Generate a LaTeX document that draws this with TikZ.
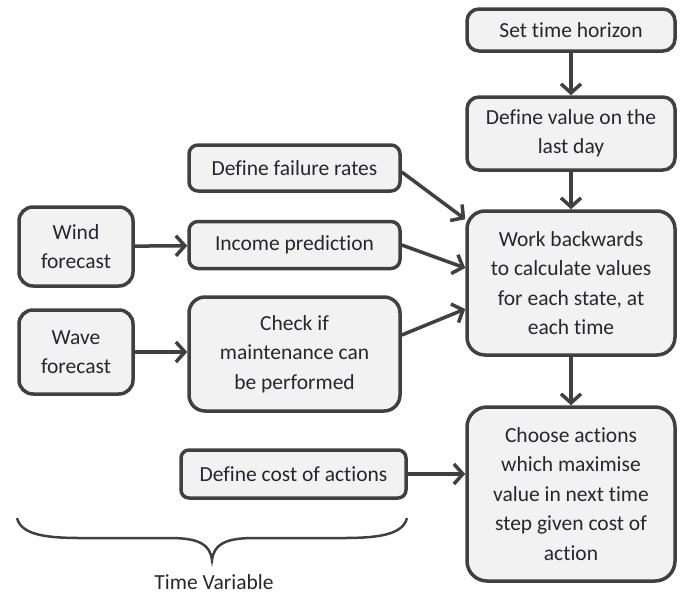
\documentclass[tikz,border=0pt]{standalone}
\usepackage{fontspec}
\setmainfont{Carlito}[Ligatures=NoCommon]
\usetikzlibrary{arrows.meta,calc}
\definecolor{edge}{HTML}{404040}
\definecolor{boxfill}{HTML}{F2F2F2}
\definecolor{txt}{HTML}{262630}
\tikzset{
  box/.style={draw=edge, fill=boxfill, line width=3.5pt, rounded corners=12pt,
    align=center, text=txt, inner sep=0pt,
    font=\fontsize{21.5}{29.5}\selectfont},
  conn/.style={draw=edge, line width=3.5pt,
    -{Straight Barb[length=9pt,width=20pt,line width=3.5pt]}},
}
\begin{document}
\begin{tikzpicture}[x=1pt,y=-1pt]
\useasboundingbox (0,0) rectangle (692,597);
\node[box, minimum width=208, minimum height=42] (set) at (571,30) {Set time horizon};
\node[box, minimum width=208, minimum height=73] (defv) at (571,133.5) {Define value on the\\last day};
\node[box, minimum width=208, minimum height=144, rounded corners=18pt] (work) at (571,283) {Work backwards\\to calculate values\\for each state, at\\each time};
\node[box, minimum width=208, minimum height=174, rounded corners=20pt] (choose) at (571,494) {Choose actions\\which maximise\\value in next time\\step given cost of\\action};
\node[box, minimum width=211, minimum height=46, rounded corners=9pt] (fail) at (294.5,168) {Define failure rates};
\node[box, minimum width=211, minimum height=47, rounded corners=9pt] (income) at (294.5,245) {Income prediction};
\node[box, minimum width=211, minimum height=114, rounded corners=16pt] (check) at (294.5,354) {Check if\\maintenance can\\be performed};
\node[box, minimum width=225, minimum height=48, rounded corners=8pt] (cost) at (293.5,474) {Define cost of actions};
\node[box, minimum width=114, minimum height=79, rounded corners=14pt] (wind) at (76,246.5) {Wind\\forecast};
\node[box, minimum width=114, minimum height=84, rounded corners=14pt] (wave) at (76,352) {Wave\\forecast};

\draw[conn] (set) -- (defv);
\draw[conn] (defv) -- (work);
\draw[conn] (work) -- (choose);
\draw[conn] (wind) -- (income);
\draw[conn] (wave.east) -- (check.west |- wave.east);
\draw[conn] ($(fail.east)+(0,4)$) -- ($(work.north west)+(0,10)$);
\draw[conn] (income.east) -- ($(work.west)+(0,-15)$);
\draw[conn] ($(check.east)+(0,-19)$) -- ($(work.west)+(0,26)$);
\draw[conn] (cost.east) -- (cost.east -| choose.west);

\draw[edge, line width=2.5pt] (17,518) .. controls (21,533) and (40,538) .. (80,538) -- (170,538)
  .. controls (200,538) and (210,545) .. (212,560)
  .. controls (214,545) and (224,538) .. (254,538) -- (344,538)
  .. controls (384,538) and (403,533) .. (407,518);
\node[text=txt, font=\fontsize{21.5}{29.5}\selectfont, inner sep=0pt] (tv) at (214,582) {Time Variable};
\end{tikzpicture}
\end{document}
